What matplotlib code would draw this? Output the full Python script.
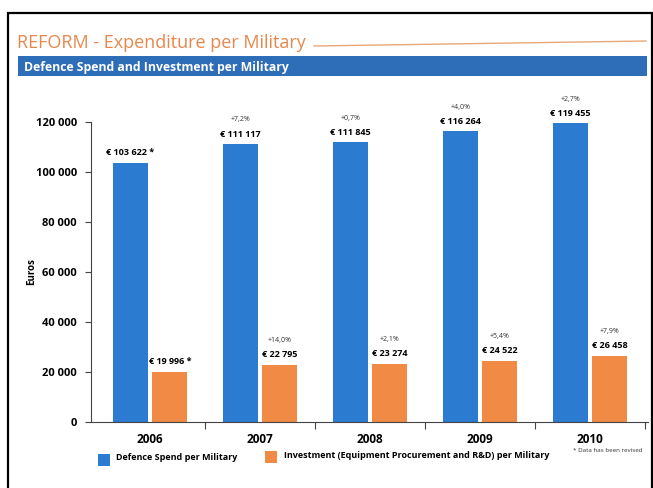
import matplotlib
matplotlib.use('Agg')
import matplotlib.pyplot as plt
from matplotlib.patches import Rectangle
from matplotlib.lines import Line2D

years = ['2006', '2007', '2008', '2009', '2010']
defence_spend = [103622, 111117, 111845, 116264, 119455]
investment = [19996, 22795, 23274, 24522, 26458]
defence_labels = ['€ 103 622 *', '€ 111 117', '€ 111 845', '€ 116 264', '€ 119 455']
investment_labels = ['€ 19 996 *', '€ 22 795', '€ 23 274', '€ 24 522', '€ 26 458']
defence_growth = ['', '+7,2%', '+0,7%', '+4,0%', '+2,7%']
investment_growth = ['', '+14,0%', '+2,1%', '+5,4%', '+7,9%']
y_ticks = [0, 20000, 40000, 60000, 80000, 100000, 120000]

BLUE = '#2b7bd0'
ORANGE = '#f08a45'
TITLE_ORANGE = '#e8874c'
BAND_BLUE = '#2e6db8'
FONT = ['Open Sans', 'DejaVu Sans']

W, H = 653, 488
fig = plt.figure(figsize=(W / 100, H / 100), dpi=100)
fig.patch.set_facecolor('white')


def fx(px):
    return px / W


def fy(py):
    return 1 - py / H


# cadre noir
fig.patches.append(Rectangle((fx(8), fy(500)), fx(652) - fx(8), fy(13) - fy(500),
                             transform=fig.transFigure, fill=False, edgecolor='black', lw=1.6))

# titre
fig.text(fx(17), fy(43), 'REFORM - Expenditure per Military', color=TITLE_ORANGE,
         fontsize=13, family=FONT, va='center', ha='left')
fig.lines.append(Line2D([fx(314), fx(646)], [fy(46), fy(41)], transform=fig.transFigure,
                        color='#e8a878', lw=1))
fig.patches.append(Rectangle((fx(18), fy(76)), fx(647) - fx(18), fy(56) - fy(76),
                             transform=fig.transFigure, color=BAND_BLUE, lw=0))
fig.text(fx(24), fy(67), 'Defence Spend and Investment per Military', color='white',
         fontsize=8.8, fontweight='bold', family=FONT, va='center', ha='left')

# axes
ax_left, ax_right, ax_top, ax_bottom = 91, 648, 122, 422
ax = fig.add_axes([fx(ax_left), fy(ax_bottom), fx(ax_right) - fx(ax_left),
                   fy(ax_top) - fy(ax_bottom)])
x = list(range(len(years)))
bw = 0.32
off = 0.18
ax.bar([i - off for i in x], defence_spend, width=bw, color=BLUE, zorder=2)
ax.bar([i + off for i in x], investment, width=bw, color=ORANGE, zorder=2)

ax.set_xlim((ax_left - 150) / 110, (ax_right - 150) / 110)
ax.set_ylim(0, 120000)

for i in x:
    ax.annotate(defence_labels[i], (i - off, defence_spend[i]), xytext=(0, 4),
                textcoords='offset points', ha='center', va='bottom',
                fontsize=6.5, fontweight='bold', family=FONT, annotation_clip=False)
    ax.annotate(investment_labels[i], (i + off, investment[i]), xytext=(0, 4),
                textcoords='offset points', ha='center', va='bottom',
                fontsize=6.5, fontweight='bold', family=FONT, annotation_clip=False)
    if defence_growth[i]:
        ax.annotate(defence_growth[i], (i - off, defence_spend[i]), xytext=(0, 15),
                    textcoords='offset points', ha='center', va='bottom',
                    fontsize=5, color='#333333', family=FONT, annotation_clip=False)
    if investment_growth[i]:
        ax.annotate(investment_growth[i], (i + off, investment[i]), xytext=(0, 15),
                    textcoords='offset points', ha='center', va='bottom',
                    fontsize=5, color='#333333', family=FONT, annotation_clip=False)

ax.spines['top'].set_visible(False)
ax.spines['right'].set_visible(False)
ax.spines['left'].set_color('#444444')
ax.spines['bottom'].set_color('#444444')
ax.set_yticks(y_ticks)
ax.set_yticklabels([f'{v:,}'.replace(',', ' ') for v in y_ticks], fontsize=8,
                   fontweight='bold', family=FONT)
ax.tick_params(axis='y', length=4, color='#444444', pad=6)
ax.set_xticks([i + 0.5 for i in x])
ax.set_xticklabels([])
ax.tick_params(axis='x', length=5, color='#444444')
for i in x:
    ax.text(i, -4500, years[i], ha='center', va='top', fontsize=8.5, fontweight='bold',
            family=FONT)
ax.set_ylabel('Euros', fontsize=7, fontweight='bold', family=FONT)
ax.yaxis.set_label_coords((37 - ax_left) / (ax_right - ax_left), 0.5)

# légende
fig.patches.append(Rectangle((fx(98), fy(466)), 12 / W, 12 / H, transform=fig.transFigure,
                             color=BLUE, lw=0))
fig.text(fx(116), fy(458), 'Defence Spend per Military', fontsize=6.5, fontweight='bold',
         family=FONT, va='center', ha='left')
fig.patches.append(Rectangle((fx(265), fy(463)), 12 / W, 12 / H, transform=fig.transFigure,
                             color=ORANGE, lw=0))
fig.text(fx(284), fy(455), 'Investment (Equipment Procurement and R&D) per Military',
         fontsize=6.5, fontweight='bold', family=FONT, va='center', ha='left')
fig.text(fx(573), fy(450), '* Data has been revised', fontsize=4.5, family=FONT,
         va='center', ha='left', color='#333333')

fig.savefig('out.png', dpi=100)
